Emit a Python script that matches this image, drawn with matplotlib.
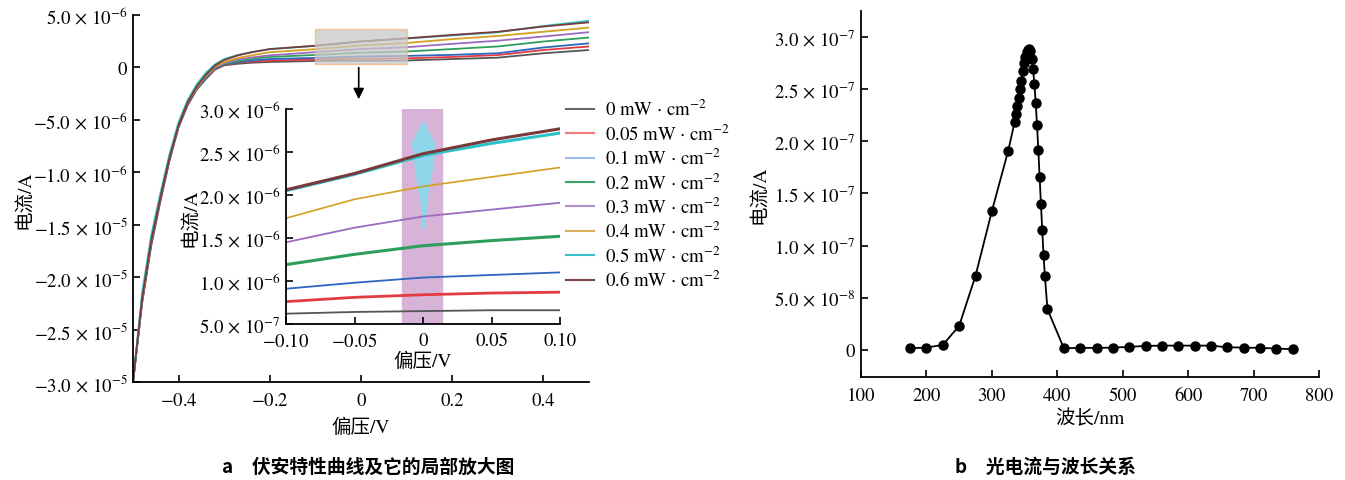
import matplotlib
matplotlib.use("Agg")
import matplotlib.pyplot as plt
from matplotlib.lines import Line2D
from matplotlib.patches import Rectangle, Polygon
import numpy as np

plt.rcParams['mathtext.fontset'] = 'stix'
plt.rcParams['font.family'] = ['STIXGeneral', 'Noto Sans CJK SC', 'DejaVu Sans']
plt.rcParams['axes.unicode_minus'] = True

# ---------------- data : panel a (I-V curves, units 1e-6 A) ----------------
labels_a = ['0', '0.05', '0.1', '0.2', '0.3', '0.4', '0.5', '0.6']
colors_a = ['#555555', '#e43b40', '#2f66c0', '#2e9e5b', '#9b6bbf', '#d4a021', '#2cc3c8', '#7a3a3c']
legend_colors = ['#666666', '#f07a7a', '#9bbbe8', '#3aa566', '#b38ccc', '#d9b060', '#36c4c8', '#7a4545']

v_main = [-0.50, -0.48, -0.46, -0.44, -0.42, -0.40, -0.38, -0.36, -0.34, -0.32,
          -0.30, -0.27, -0.24, -0.20, -0.10, 0.00, 0.10, 0.20, 0.30, 0.40, 0.50]
i_main_0 = [-30, -22.5, -17.0, -12.8, -8.9, -5.7, -3.6, -2.1, -1.1, -0.2,
            0.20, 0.35, 0.45, 0.52, 0.62, 0.65, 0.66, 0.80, 0.93, 1.35, 1.66]
i_main_005 = [-30, -22.3, -16.8, -12.6, -8.8, -5.6, -3.5, -2.0, -1.0, -0.15,
              0.25, 0.45, 0.55, 0.65, 0.76, 0.84, 0.87, 1.00, 1.18, 1.66, 2.00]
i_main_01 = [-30, -22.2, -16.7, -12.5, -8.7, -5.5, -3.4, -2.0, -1.0, -0.10,
             0.30, 0.50, 0.65, 0.80, 0.91, 1.05, 1.10, 1.20, 1.35, 1.90, 2.30]
i_main_02 = [-30, -22.1, -16.5, -12.4, -8.6, -5.4, -3.3, -1.9, -0.9, -0.05,
             0.35, 0.60, 0.80, 1.00, 1.19, 1.41, 1.52, 1.75, 2.00, 2.47, 2.85]
i_main_03 = [-30, -22.0, -16.4, -12.3, -8.5, -5.4, -3.3, -1.9, -0.85, 0.0,
             0.40, 0.75, 0.95, 1.15, 1.46, 1.75, 1.93, 2.25, 2.55, 2.95, 3.36]
i_main_04 = [-30, -22.0, -16.4, -12.3, -8.5, -5.4, -3.3, -1.9, -0.8, 0.10,
             0.50, 0.90, 1.15, 1.45, 1.74, 2.10, 2.33, 2.70, 3.00, 3.40, 3.80]
i_main_05 = [-30, -21.5, -16.0, -12.0, -8.3, -5.2, -3.1, -1.6, -0.5, 0.30,
             0.80, 1.20, 1.45, 1.75, 2.05, 2.48, 2.75, 3.05, 3.35, 3.95, 4.45]
i_main_06 = [-30, -22.0, -16.5, -12.4, -8.6, -5.5, -3.3, -1.8, -0.7, 0.20,
             0.70, 1.15, 1.45, 1.75, 2.07, 2.48, 2.78, 3.10, 3.40, 3.90, 4.30]
i_main = [i_main_0, i_main_005, i_main_01, i_main_02, i_main_03, i_main_04, i_main_05, i_main_06]

# inset (zoom -0.1..0.1 V), units 1e-6 A
v_inset = [-0.10, -0.05, 0.00, 0.05, 0.10]
i_inset_0 = [0.62, 0.64, 0.65, 0.66, 0.66]
i_inset_005 = [0.76, 0.81, 0.84, 0.86, 0.87]
i_inset_01 = [0.91, 0.98, 1.04, 1.07, 1.10]
i_inset_02 = [1.19, 1.31, 1.41, 1.47, 1.52]
i_inset_03 = [1.45, 1.62, 1.75, 1.83, 1.91]
i_inset_04 = [1.73, 1.95, 2.10, 2.21, 2.32]
i_inset_05 = [2.05, 2.24, 2.46, 2.60, 2.72]
i_inset_06 = [2.06, 2.25, 2.48, 2.64, 2.77]
i_inset = [i_inset_0, i_inset_005, i_inset_01, i_inset_02, i_inset_03, i_inset_04, i_inset_05, i_inset_06]
inset_lw = [1.3, 2.0, 1.3, 2.2, 1.3, 1.2, 2.2, 2.2]

# decorative marker shape in inset (V, 1e-6 A)
kite_v = [0.0002, 0.0088, 0.0080, 0.0040, 0.0015, -0.0010, -0.0017, -0.0058, -0.0083]
kite_i = [2.87, 2.60, 2.37, 2.02, 1.61, 1.61, 1.90, 2.29, 2.60]

main_yticks = [5e-6, 0, -5e-6, -1e-5, -1.5e-5, -2e-5, -2.5e-5, -3e-5]
main_yticklabels = [r'$5.0\,\times\,10^{-6}$', '0', r'$-5.0\,\times\,10^{-6}$', r'$-1.0\,\times\,10^{-6}$',
                    r'$-1.5\,\times\,10^{-5}$', r'$-2.0\,\times\,10^{-5}$', r'$-2.5\,\times\,10^{-5}$',
                    r'$-3.0\,\times\,10^{-5}$']
main_xticks = [-0.4, -0.2, 0, 0.2, 0.4]
main_xticklabels = ['$-0.4$', '$-0.2$', '0', '0.2', '0.4']
inset_yticks = [3.0e-6, 2.5e-6, 2.0e-6, 1.5e-6, 1.0e-6, 5.0e-7]
inset_yticklabels = [r'$3.0\,\times\,10^{-6}$', r'$2.5\,\times\,10^{-6}$', r'$2.0\,\times\,10^{-6}$',
                     r'$1.5\,\times\,10^{-6}$', r'$1.0\,\times\,10^{-6}$', r'$5.0\,\times\,10^{-7}$']
inset_xticks = [-0.10, -0.05, 0, 0.05, 0.10]
inset_xticklabels = ['$-0.10$', '$-0.05$', '0', '0.05', '0.10']

# ---------------- data : panel b (photocurrent vs wavelength) ----------------
wavelength = [175, 200, 225, 250, 275, 300, 325, 335, 337, 339, 341, 343, 345, 347, 349,
              351, 353, 355, 357, 359, 361, 363, 365, 367, 369, 371, 373, 375, 377, 379,
              381, 385, 410, 435, 460, 485, 510, 535, 560, 585, 610, 635, 660, 685, 710,
              735, 760]
photocurrent = [1.6e-9, 2.2e-9, 4.8e-9, 2.3e-8, 7.1e-8, 1.33e-7, 1.91e-7, 2.19e-7, 2.26e-7,
                2.34e-7, 2.42e-7, 2.50e-7, 2.58e-7, 2.67e-7, 2.75e-7, 2.81e-7, 2.86e-7,
                2.88e-7, 2.89e-7, 2.87e-7, 2.79e-7, 2.69e-7, 2.55e-7, 2.37e-7, 2.16e-7,
                1.92e-7, 1.66e-7, 1.40e-7, 1.15e-7, 9.1e-8, 7.1e-8, 3.9e-8, 1.6e-9,
                1.9e-9, 1.9e-9, 2.2e-9, 2.9e-9, 3.8e-9, 4.1e-9, 4.1e-9, 4.1e-9, 4.1e-9,
                2.5e-9, 2.2e-9, 1.9e-9, 1.3e-9, 0.6e-9]
b_yticks = [3.0e-7, 2.5e-7, 2.0e-7, 1.5e-7, 1.0e-7, 5.0e-8, 0]
b_yticklabels = [r'$3.0\,\times\,10^{-7}$', r'$2.5\,\times\,10^{-7}$', r'$2.0\,\times\,10^{-7}$',
                 r'$1.5\,\times\,10^{-7}$', r'$1.0\,\times\,10^{-7}$', r'$5.0\,\times\,10^{-8}$', '0']
b_xticks = [100, 200, 300, 400, 500, 600, 700, 800]

W, H = 1345, 481
fig = plt.figure(figsize=(W / 100, H / 100), dpi=100)

def fax(l, t, r, b):
    return [l / W, 1 - b / H, (r - l) / W, (b - t) / H]

TFS = 13.5

def style(ax, fs=TFS):
    for s in ['top', 'right']:
        ax.spines[s].set_visible(False)
    for s in ['left', 'bottom']:
        ax.spines[s].set_linewidth(1.3)
    ax.tick_params(direction='in', length=5, width=1.2, labelsize=fs, pad=4)

cjk = ['STIXGeneral', 'Noto Sans CJK SC']
LFS = 14

# ---- panel a main ----
ax = fig.add_axes(fax(133, 16, 589, 383))
style(ax)
for ys, c in zip(i_main, colors_a):
    ax.plot(v_main, np.array(ys) * 1e-6, color=c, lw=1.3)
ax.set_xlim(-0.5, 0.5)
ax.set_ylim(-3e-5, 5e-6)
ax.set_yticks(main_yticks)
ax.set_yticklabels(main_yticklabels)
ax.set_xticks(main_xticks)
ax.set_xticklabels(main_xticklabels)
ax.tick_params(axis='x', pad=7)
ax.set_xlabel('偏压/V', family=cjk, fontsize=LFS, labelpad=6)
ax.set_ylabel('电流/A', family=cjk, fontsize=LFS, labelpad=0)
ax.add_patch(Rectangle((-0.1, 0.3e-6), 0.2, 3.4e-6, facecolor='#c8c8c8', alpha=0.75,
                       edgecolor='#f3b57a', lw=1.0, zorder=3))
ax.annotate('', xy=(-0.005, -3.3e-6), xytext=(-0.005, 0.25e-6),
            arrowprops=dict(arrowstyle='-|>', color='black', lw=1.2, mutation_scale=16),
            zorder=4)

# ---- inset ----
axi = fig.add_axes(fax(286, 110, 560, 325))
style(axi)
axi.axvspan(-0.015, 0.014, color='#d8b3d8', zorder=0)
axi.add_patch(Polygon(np.column_stack([kite_v, np.array(kite_i) * 1e-6]), closed=True,
                      facecolor='#8fd6ea', edgecolor='none', zorder=1))
for ys, c, lw in zip(i_inset, colors_a, inset_lw):
    axi.plot(v_inset, np.array(ys) * 1e-6, color=c, lw=lw, zorder=2)
axi.set_xlim(-0.1, 0.1)
axi.set_ylim(5e-7, 3e-6)
axi.set_yticks(inset_yticks)
axi.set_yticklabels(inset_yticklabels)
axi.set_xticks(inset_xticks)
axi.set_xticklabels(inset_xticklabels)
axi.tick_params(axis='x', pad=6)
axi.set_xlabel('偏压/V', family=cjk, fontsize=LFS, labelpad=1)
axi.set_ylabel('电流/A', family=cjk, fontsize=LFS, labelpad=0)

handles = [Line2D([], [], color=c, lw=1.5) for c in legend_colors]
leg_labels = [l + r' mW $\cdot$ cm$^{-2}$' for l in labels_a]
fig.legend(handles, leg_labels, loc='upper left', bbox_to_anchor=(566 / W, 1 - 100 / H),
           frameon=False, fontsize=TFS, handlelength=1.5, handletextpad=0.6,
           labelspacing=0.22, borderaxespad=0, borderpad=0)

# ---- panel b ----
axb = fig.add_axes(fax(861, 12, 1319, 378))
style(axb)
axb.plot(wavelength, photocurrent, color='black', lw=1.3, marker='o', ms=6.5,
         markerfacecolor='black', markeredgecolor='black')
axb.set_xlim(100, 800)
axb.set_ylim(-2.6e-8, 3.25e-7)
axb.set_yticks(b_yticks)
axb.set_yticklabels(b_yticklabels)
axb.set_xticks(b_xticks)
axb.tick_params(axis='x', pad=7)
axb.set_xlabel('波长/nm', family=cjk, fontsize=LFS, labelpad=4)
axb.set_ylabel('电流/A', family=cjk, fontsize=LFS, labelpad=4)

fig.text(368 / W, 1 - 467 / H, 'a　伏安特性曲线及它的局部放大图', ha='center', va='center',
         fontsize=13.5, fontweight='bold', family=['Noto Sans CJK SC'])
fig.text(1045 / W, 1 - 467 / H, 'b　光电流与波长关系', ha='center', va='center',
         fontsize=13.5, fontweight='bold', family=['Noto Sans CJK SC'])

fig.savefig('out.png', dpi=100)
